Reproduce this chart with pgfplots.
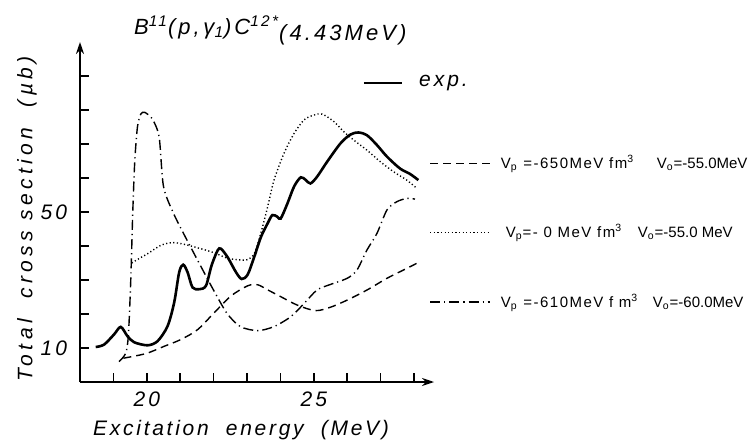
\documentclass[border=0pt]{standalone}
\usepackage{fontspec}
\setmainfont{Liberation Sans}
\newfontfamily\labx[LetterSpace=13]{Liberation Sans}
\newfontfamily\laby[LetterSpace=21]{Liberation Sans}
\newfontfamily\lab[LetterSpace=14]{Liberation Sans}
\newfontfamily\leg[LetterSpace=10]{Liberation Sans}
\usepackage{pgfplots}
\pgfplotsset{compat=1.18}
\usetikzlibrary{arrows.meta}
\begin{document}
\begin{tikzpicture}
\useasboundingbox (-40pt,-29.5pt) rectangle (336.5pt,191pt);
\begin{axis}[
  x=16.7pt, y=1.7pt,
  xmin=18, xmax=28.6, ymin=0, ymax=100,
  axis lines=left,
  axis line style={line width=0.9pt, -{Stealth[length=6pt,width=4pt]}},
  xtick={20,25}, minor xtick={19,21,22,23,24,26,27,28},
  ytick={10,50}, minor ytick={20,30,40,60,70,80,90},
  tick align=inside, major tick length=4.5pt, minor tick length=4.5pt,
  every tick/.style={line width=0.8pt, black},
  /pgf/number format/assume math mode=true,
  ticklabel style={font=\lab\itshape\fontsize{10.5}{12}\selectfont},
  xticklabel style={yshift=-1.5pt},
  yticklabel style={xshift=-3pt},
  xlabel={Excitation\ \ energy\ \ (MeV)},
  ylabel={Total\ \ cross\ section\ \ (µb)},
  xlabel style={font=\labx\itshape\fontsize{10.5}{12}\selectfont, at={(axis description cs:0.455,-0.14)}, anchor=center},
  ylabel style={font=\laby\itshape\fontsize{10.5}{12}\selectfont, at={(axis description cs:-0.15,0.48)}, anchor=center},
  clip=false,
  legend style={at={(axis cs:28.45,68)}, anchor=north west, draw=none, fill=none,
    font=\fontsize{7.5}{9}\selectfont, row sep=22.5pt, inner sep=0pt},
  legend cell align=left,
  legend image code/.code={\draw[#1] (0pt,0pt) -- (30pt,0pt);},
]
% experiment (solid)
\addplot[black, line width=1.3pt, smooth, tension=0.5, forget plot] coordinates {
(18.47,10.3) (18.72,11) (19.02,14) (19.22,16.2) (19.42,13.5) (19.62,11.7) (20.02,10.8)
(20.32,12) (20.62,16.4) (20.82,23.4) (20.97,32.3) (21.09,34.5) (21.22,32.3) (21.37,27.8)
(21.57,27.3) (21.77,28.3) (21.94,34.3) (22.12,38.7) (22.22,39.2) (22.42,36.7) (22.67,32.3)
(22.84,30.3) (23.02,31.6) (23.22,36.9) (23.42,42.7) (23.62,46.7) (23.76,49.1) (23.91,48.6)
(24.01,48.1) (24.21,52.5) (24.41,57.5) (24.61,60.2) (24.76,59.4) (24.90,58.4) (25.1,60.4)
(25.4,64.8) (25.8,70.2) (26.1,72.8) (26.34,73.4) (26.59,72.6) (26.89,69.7) (27.19,66.3)
(27.58,62.8) (27.88,61.2) (28.13,59.4)};
% dashed
\addplot[black, line width=0.7pt, dash pattern=on 4pt off 2.5pt, smooth, tension=0.5] coordinates {
(19.3,7) (19.62,7.6) (20.02,8.5) (20.52,10.5) (21.02,12.5) (21.52,15.4) (22.02,20.4)
(22.52,25.3) (23.02,28.3) (23.32,28.6) (23.62,27.1) (24.01,25.1) (24.51,22.6) (25.05,21)
(25.5,22) (26.0,24.1) (26.6,27.1) (27.19,30.5) (27.78,33.4) (28.08,34.9)};
\addlegendentry{\hspace{3pt}\makebox[78pt][l]{\leg V\textsubscript{p} =-650MeV fm\textsuperscript{3}}V\textsubscript{o}=-55.0MeV}
% dotted
\addplot[black, line width=0.7pt, dash pattern=on 0.6pt off 1.2pt, smooth, tension=0.5] coordinates {
(19.55,35) (19.8,36.5) (20.02,37.7) (20.42,40.2) (20.77,41) (21.12,40.5) (21.62,39.2)
(22.02,38) (22.42,36.4) (22.82,35.9) (23.02,36) (23.22,37.8) (23.42,44) (23.62,51.6)
(23.81,59.4) (24.11,67.3) (24.41,73.1) (24.71,77.1) (25.0,78.5) (25.25,78.8) (25.6,76.6)
(25.9,73.6) (26.19,71.2) (26.59,68.2) (26.99,64.8) (27.38,61.9) (27.78,59.4) (28.08,57)};
\addlegendentry{\hspace{5.5pt}\makebox[66pt][l]{\leg V\textsubscript{p}=- 0 MeV fm\textsuperscript{3}}V\textsubscript{o}=-55.0 MeV}
% dash-dot
\addplot[black, line width=0.7pt, dash pattern=on 5pt off 2pt on 0.6pt off 2pt, smooth, tension=0.45] coordinates {
(19.17,6) (19.37,8.5) (19.45,14) (19.52,30) (19.58,50) (19.64,65) (19.72,75) (19.82,78.8)
(19.94,79.3) (20.17,77.3) (20.37,72) (20.5,57.5) (20.8,49.6) (21.2,41.8) (21.7,32.5)
(22.0,27) (22.4,20.2) (22.8,16.3) (23.32,15.1) (23.81,16.3) (24.31,19.2) (24.71,23.1)
(25.1,27.1) (25.5,28.7) (26.0,30.5) (26.29,32.9) (26.59,38.8) (26.89,43.7) (27.19,50.6)
(27.48,53) (27.78,54) (28.03,53.8)};
\addlegendentry{\hspace{3pt}\makebox[76pt][l]{\leg V\textsubscript{p} =-610MeV f m\textsuperscript{3}}V\textsubscript{o}=-60.0MeV}
\node[font=\lab\itshape\fontsize{11}{12}\selectfont] at (axis cs:23.7,103.5)
  {B\textsuperscript{11}(p,\,γ\textsubscript{1})C\textsuperscript{12\,*}\raisebox{-3pt}{(4.43MeV)}};
\end{axis}
\begin{axis}[
  x=16.7pt, y=1.7pt,
  xmin=18, xmax=28.6, ymin=0, ymax=100,
  hide axis,
  legend style={at={(axis cs:26.45,88)}, anchor=west, draw=none, fill=none,
    font=\lab\itshape\fontsize{10.5}{12}\selectfont, inner sep=0pt},
  legend image code/.code={\draw[#1] (0pt,0pt) -- (19pt,0pt);},
]
\addlegendimage{black, line width=1.3pt}
\addlegendentry{\hspace{6pt}exp.}
\end{axis}
\end{tikzpicture}
\end{document}
